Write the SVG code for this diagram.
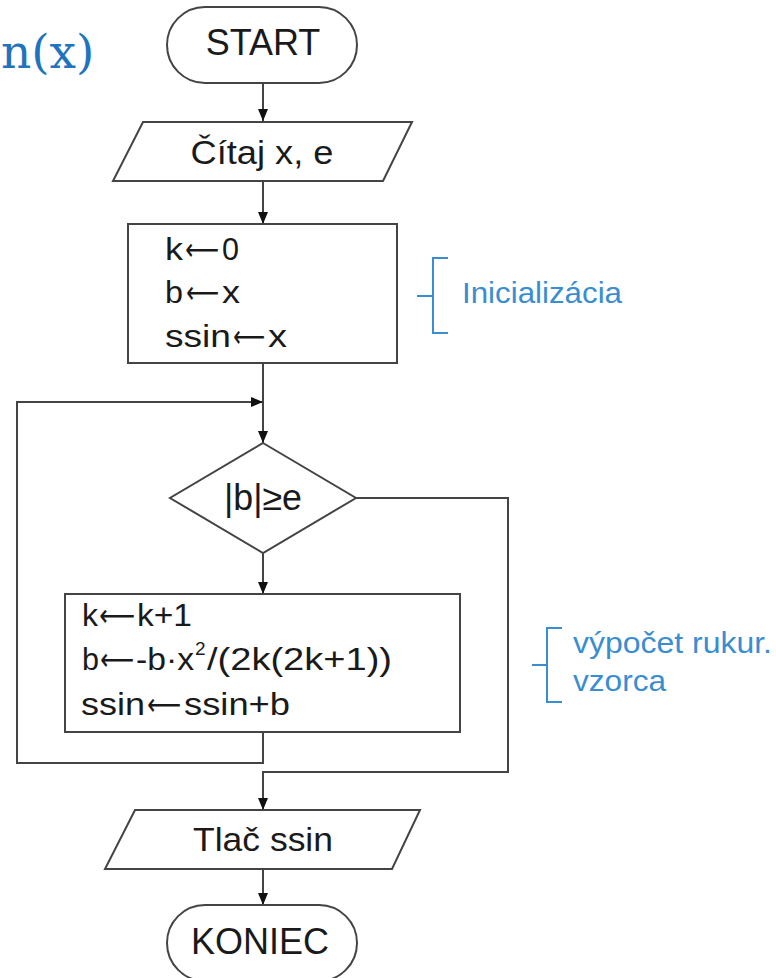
<svg xmlns="http://www.w3.org/2000/svg" width="776" height="978" viewBox="0 0 776 978">
  <defs>
    <marker id="arrow" viewBox="0 0 12 10" refX="12" refY="5" markerWidth="12" markerHeight="10" markerUnits="userSpaceOnUse" orient="auto">
      <path d="M0,0 L12,5 L0,10 z" fill="#111"/>
    </marker>
    <style>
      .shape { fill: #fff; stroke: #444; stroke-width: 2; }
      .conn { fill: none; stroke: #444; stroke-width: 2; }
      .t { font-family: "Liberation Sans", Arial, sans-serif; fill: #1a1a1a; }
      .arr { font-family: "DejaVu Sans", sans-serif; }
      .big { font-size: 36px; text-anchor: middle; }
      .mid { font-size: 33px; text-anchor: middle; }
      .line { font-size: 31px; }
      .note { font-family: "Liberation Sans", Arial, sans-serif; font-size: 30px; fill: #3a8dd0; }
      .brace { fill: none; stroke: #3a8dd0; stroke-width: 2; }
    </style>
  </defs>

  <rect width="776" height="978" fill="#fff"/>

  <!-- heading fragment at the left edge -->
  <text x="1" y="68" font-family="'DejaVu Serif', 'Liberation Serif', serif" font-size="47" fill="#1f74bd">n(x)</text>

  <!-- connectors -->
  <g id="connectors">
    <path class="conn" d="M263,83 V121" marker-end="url(#arrow)"/>
    <path class="conn" d="M263,181 V224" marker-end="url(#arrow)"/>
    <path class="conn" d="M263,363 V443" marker-end="url(#arrow)"/>
    <path class="conn" d="M263,732 V763 H17 V402 H263" marker-end="url(#arrow)"/>
    <path class="conn" d="M263,553 V594" marker-end="url(#arrow)"/>
    <path class="conn" d="M356,498 H508 V772 H263 V810" marker-end="url(#arrow)"/>
    <path class="conn" d="M263,869 V905" marker-end="url(#arrow)"/>
  </g>

  <g id="start">
    <rect class="shape" x="167" y="7" width="190" height="76" rx="38" ry="38"/>
    <text class="t big" x="263" y="55">START</text>
  </g>

  <g id="input">
    <polygon class="shape" points="143,122 412,122 383,181 113,181"/>
    <text class="t mid" x="262" y="164" textLength="143" lengthAdjust="spacingAndGlyphs">Čítaj x, e</text>
  </g>

  <g id="init">
    <rect class="shape" x="128" y="224" width="269" height="139"/>
    <text class="t line" y="260"><tspan x="165" textLength="18" lengthAdjust="spacingAndGlyphs">k</tspan><tspan class="arr" x="185" textLength="34" lengthAdjust="spacingAndGlyphs">⟵</tspan><tspan x="222" textLength="17" lengthAdjust="spacingAndGlyphs">0</tspan></text>
    <text class="t line" y="303"><tspan x="165" textLength="18" lengthAdjust="spacingAndGlyphs">b</tspan><tspan class="arr" x="186" textLength="33" lengthAdjust="spacingAndGlyphs">⟵</tspan><tspan x="222" textLength="18" lengthAdjust="spacingAndGlyphs">x</tspan></text>
    <text class="t line" y="347"><tspan x="165" textLength="66" lengthAdjust="spacingAndGlyphs">ssin</tspan><tspan class="arr" x="233" textLength="32" lengthAdjust="spacingAndGlyphs">⟵</tspan><tspan x="268" textLength="19" lengthAdjust="spacingAndGlyphs">x</tspan></text>
  </g>

  <g id="init-note">
    <path class="brace" d="M448,258 H433 V333 H448 M417,296 H433"/>
    <text class="note" x="462" y="303" textLength="160" lengthAdjust="spacingAndGlyphs">Inicializácia</text>
  </g>

  <g id="test">
    <polygon class="shape" points="263,443 356,498 263,553 170,498"/>
    <text class="t big" x="263" y="510" textLength="78" lengthAdjust="spacingAndGlyphs">|b|≥e</text>
  </g>

  <g id="step">
    <rect class="shape" x="65" y="594" width="395" height="138"/>
    <text class="t line" y="626"><tspan x="82" textLength="16" lengthAdjust="spacingAndGlyphs">k</tspan><tspan class="arr" x="99" textLength="36" lengthAdjust="spacingAndGlyphs">⟵</tspan><tspan x="137" textLength="55" lengthAdjust="spacingAndGlyphs">k+1</tspan></text>
    <text class="t line" y="670"><tspan x="82" textLength="17" lengthAdjust="spacingAndGlyphs">b</tspan><tspan class="arr" x="100" textLength="34" lengthAdjust="spacingAndGlyphs">⟵</tspan><tspan x="136" textLength="58" lengthAdjust="spacingAndGlyphs">-b·x</tspan><tspan x="195" y="655" font-size="19">2</tspan><tspan x="207" y="670" textLength="185" lengthAdjust="spacingAndGlyphs">/(2k(2k+1))</tspan></text>
    <text class="t line" y="715"><tspan x="81" textLength="64" lengthAdjust="spacingAndGlyphs">ssin</tspan><tspan class="arr" x="147" textLength="34" lengthAdjust="spacingAndGlyphs">⟵</tspan><tspan x="184" textLength="106" lengthAdjust="spacingAndGlyphs">ssin+b</tspan></text>
  </g>

  <g id="step-note">
    <path class="brace" d="M562,628 H547 V702 H562 M532,665 H547"/>
    <text class="note" x="573" y="653" textLength="199" lengthAdjust="spacingAndGlyphs">výpočet rukur.</text>
    <text class="note" x="573" y="691" textLength="93" lengthAdjust="spacingAndGlyphs">vzorca</text>
  </g>

  <g id="output">
    <polygon class="shape" points="135,810 420,810 392,869 105,869"/>
    <text class="t mid" x="263" y="851" textLength="140" lengthAdjust="spacingAndGlyphs">Tlač ssin</text>
  </g>

  <g id="end">
    <rect class="shape" x="167" y="905" width="190" height="76" rx="38" ry="38"/>
    <text class="t big" x="260" y="954">KONIEC</text>
  </g>
</svg>
